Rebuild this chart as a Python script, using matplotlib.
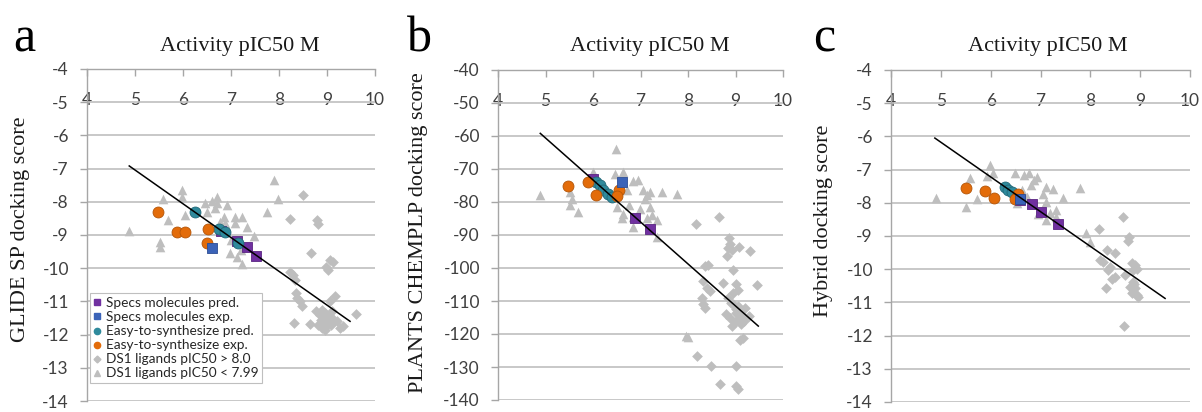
import matplotlib
matplotlib.use("Agg")
import matplotlib.pyplot as plt
from matplotlib.lines import Line2D

plt.rcParams['font.family'] = ['Lato', 'DejaVu Sans']
plt.rcParams['axes.unicode_minus'] = False

# ---- panel a: GLIDE SP ----
a_spec_pred_x = [6.79, 7.12, 7.33, 7.52]
a_spec_pred_y = [-8.87, -9.18, -9.37, -9.62]
a_spec_exp_x = [6.60]
a_spec_exp_y = [-9.40]
a_easy_pred_x = [6.25, 6.75, 6.87, 7.14]
a_easy_pred_y = [-8.32, -8.83, -8.90, -9.23]
a_easy_exp_x = [5.48, 5.87, 6.05, 6.53, 6.49]
a_easy_exp_y = [-8.32, -8.90, -8.92, -8.83, -9.23]
a_hi_x = [8.49, 8.22, 8.80, 8.82, 8.67, 9.07, 8.98, 9.02, 9.12, 8.22,
          8.29, 8.33, 8.36, 8.38, 8.43, 8.47, 9.17, 9.06, 9.60, 8.31,
          8.65, 8.78, 8.85, 8.90, 8.95, 9.00, 9.05, 9.10, 9.15, 8.88,
          8.93, 8.98, 9.03, 9.08, 9.20, 9.28, 9.33, 8.82, 8.95, 9.00, 8.90]
a_hi_y = [-7.80, -8.53, -8.55, -8.68, -9.55, -9.75, -9.95, -10.05, -9.82, -10.10,
          -10.20, -10.35, -10.75, -10.90, -11.00, -11.15, -10.85, -11.00, -11.37, -11.65,
          -11.67, -11.30, -11.40, -11.25, -11.35, -11.45, -11.40, -11.30, -11.55, -11.55,
          -11.65, -11.75, -11.60, -11.70, -11.60, -11.80, -11.75, -11.70, -11.85, -11.50, -11.80]
a_lo_x = [4.88, 5.52, 5.52, 5.59, 5.69, 5.97, 5.97, 6.04, 6.46, 6.49,
          6.60, 6.70, 6.71, 6.67, 6.91, 6.85, 6.87, 7.08, 7.22, 7.08,
          7.33, 7.47, 6.98, 7.12, 7.22, 7.01, 7.74, 7.89, 7.98, 7.20, 6.78]
a_lo_y = [-8.88, -9.20, -9.36, -7.93, -8.55, -7.63, -7.85, -8.40, -8.05, -8.30,
          -7.97, -7.85, -8.05, -8.20, -8.10, -8.45, -8.65, -8.45, -8.45, -8.65,
          -8.75, -9.04, -9.55, -9.66, -9.86, -9.15, -8.30, -7.33, -7.93, -9.45, -8.60]
a_trend_x = [4.88, 9.48]
a_trend_y = [-6.92, -11.60]

# ---- panel b: PLANTS CHEMPLP ----
b_spec_pred_x = [6.01, 6.88, 7.20]
b_spec_pred_y = [-73.0, -84.7, -88.3]
b_spec_exp_x = [6.60]
b_spec_exp_y = [-73.8]
b_easy_pred_x = [6.07, 6.15, 6.22, 6.32, 6.39]
b_easy_pred_y = [-74.0, -75.0, -76.3, -77.5, -78.5]
b_easy_exp_x = [5.48, 5.89, 6.07, 6.54, 6.51]
b_easy_exp_y = [-75.3, -74.0, -78.0, -76.3, -78.3]
b_hi_x = [8.65, 8.17, 8.87, 8.88, 8.85, 8.82, 8.92, 9.08, 9.30, 8.36,
          8.43, 8.94, 8.74, 8.32, 8.39, 8.46, 9.02, 9.06, 8.95, 9.45,
          8.29, 8.32, 8.36, 8.85, 8.90, 8.95, 9.00, 9.05, 9.10, 9.15,
          9.20, 8.80, 8.88, 8.98, 9.08, 9.18, 8.92, 9.02, 9.12, 9.28,
          9.09, 9.16, 8.19, 8.48, 9.00, 8.67, 9.02, 9.06]
b_hi_y = [-84.5, -86.7, -91.0, -92.6, -94.0, -96.4, -94.6, -93.6, -95.0, -99.4,
          -99.0, -100.6, -104.4, -104.0, -106.0, -107.0, -105.0, -106.6, -107.6, -105.1,
          -109.0, -111.0, -112.0, -109.0, -110.5, -111.0, -112.5, -111.5, -113.0, -114.5,
          -112.0, -114.0, -115.0, -116.5, -115.5, -116.0, -117.5, -113.5, -117.0, -114.5,
          -121.7, -121.2, -126.6, -129.7, -129.7, -135.0, -135.8, -136.8]
b_lo_x = [4.89, 5.52, 5.56, 5.52, 5.69, 6.49, 6.01, 6.47, 5.94, 6.64,
          6.85, 6.95, 7.05, 7.13, 7.20, 7.09, 7.45, 7.76, 6.50, 6.64,
          6.60, 6.75, 6.85, 6.99, 7.20, 7.24, 7.13, 7.34, 6.85, 7.34,
          6.71, 7.95, 8.00]
b_lo_y = [-78.0, -77.0, -79.0, -81.0, -83.0, -64.0, -71.0, -71.5, -73.5, -71.0,
          -73.5, -73.3, -76.5, -78.0, -77.0, -79.0, -77.0, -77.5, -81.5, -83.5,
          -85.0, -81.0, -84.5, -82.0, -81.5, -84.0, -85.0, -85.5, -87.5, -90.5,
          -76.5, -120.5, -121.0]
b_trend_x = [4.89, 9.48]
b_trend_y = [-59.2, -117.6]

# ---- panel c: Hybrid ----
c_spec_pred_x = [6.59, 6.82, 7.01, 7.36]
c_spec_pred_y = [-7.92, -8.05, -8.27, -8.64]
c_spec_exp_x = [6.59]
c_spec_exp_y = [-7.90]
c_easy_pred_x = [6.29, 6.35, 6.42]
c_easy_pred_y = [-7.52, -7.60, -7.67]
c_easy_exp_x = [5.50, 5.89, 6.07, 6.54, 6.49]
c_easy_exp_y = [-7.55, -7.65, -7.85, -7.72, -7.90]
c_hi_x = [8.66, 8.18, 8.78, 8.76, 8.33, 8.49, 8.19, 8.26, 8.83, 8.90,
          8.39, 8.36, 8.86, 8.93, 8.49, 8.43, 8.70, 8.85, 8.80, 8.86,
          8.93, 8.90, 8.83, 8.31, 8.68, 8.95, 8.88]
c_hi_y = [-8.44, -8.80, -9.03, -9.15, -9.41, -9.51, -9.73, -9.78, -9.81, -9.88,
          -9.93, -10.03, -10.03, -9.98, -10.23, -10.31, -10.18, -10.38, -10.53, -10.68,
          -10.78, -10.58, -10.73, -10.58, -11.72, -10.85, -10.45]
c_lo_x = [4.90, 5.50, 5.59, 5.72, 5.99, 5.93, 6.05, 6.49, 6.66, 6.76,
          6.86, 6.92, 7.06, 7.12, 7.26, 7.46, 7.79, 6.52, 6.72, 7.12,
          7.19, 7.32, 7.12, 7.32, 7.91, 7.99, 6.80, 6.62, 6.95]
c_lo_y = [-7.87, -8.14, -7.26, -7.90, -6.85, -7.20, -7.10, -7.11, -7.16, -7.11,
          -7.31, -7.21, -7.72, -7.52, -7.57, -7.87, -7.54, -8.02, -7.82, -7.97,
          -8.32, -8.22, -8.52, -8.42, -8.92, -9.18, -7.45, -7.60, -8.35]
c_trend_x = [4.88, 9.50]
c_trend_y = [-6.05, -10.88]

x_ticks = [4, 5, 6, 7, 8, 9, 10]
legend_labels = ["Specs molecules pred.", "Specs molecules exp.",
                 "Easy-to-synthesize pred.", "Easy-to-synthesize exp.",
                 "DS1 ligands pIC50 > 8.0", "DS1 ligands pIC50 < 7.99"]

PURPLE = '#7030A0'
BLUE = '#3B63B8'
TEAL = '#2F8A9C'
ORANGE = '#E36C0A'
GREY = '#BEBEBE'
AXGREY = '#A6A6A6'
GRIDGREY = '#BFBFBF'
TXT = '#404040'
SERIF = 'Liberation Serif'

W, H = 1202, 412
fig = plt.figure(figsize=(W / 100, H / 100), dpi=100)


def panel(px_left, px_right, px_top, px_bottom, ylim, ystep, d):
    ax = fig.add_axes([px_left / W, 1 - px_bottom / H,
                       (px_right - px_left) / W, (px_bottom - px_top) / H])
    ax.set_xlim(4, 10)
    ax.set_ylim(ylim[0], ylim[1])
    ax.set_xticks(x_ticks)
    yt = list(range(ylim[0], ylim[1] + 1, ystep))
    ax.set_yticks(yt)
    ax.set_yticklabels([str(v) for v in yt])
    for s in ['right', 'bottom']:
        ax.spines[s].set_visible(False)
    for s in ['top', 'left']:
        ax.spines[s].set_color(AXGREY)
        ax.spines[s].set_linewidth(1.0)
    ax.xaxis.set_ticks_position('top')
    ax.tick_params(axis='x', direction='in', length=5, width=1, color=AXGREY,
                   labelsize=12.5, labelcolor=TXT, pad=-28)
    ax.tick_params(axis='y', direction='out', length=5, width=1, color=AXGREY,
                   labelsize=12.5, labelcolor=TXT, pad=8)
    ax.yaxis.grid(True, color=GRIDGREY, lw=1.2)
    ax.set_axisbelow(True)
    ax.patch.set_alpha(0)

    ax.scatter(d['hi'][0], d['hi'][1], marker='D', s=30, color=GREY, lw=0, zorder=2)
    ax.scatter(d['lo'][0], d['lo'][1], marker='^', s=48, color=GREY, lw=0, zorder=2)
    ax.scatter(d['sp'][0], d['sp'][1], marker='s', s=62, color=PURPLE,
               edgecolor='#5a2582', lw=0.6, zorder=3)
    ax.scatter(d['ep'][0], d['ep'][1], marker='o', s=62, color=TEAL,
               edgecolor='#216878', lw=0.6, zorder=4)
    ax.scatter(d['ee'][0], d['ee'][1], marker='o', s=62, color=ORANGE,
               edgecolor='#b35508', lw=0.6, zorder=5)
    ax.scatter(d['se'][0], d['se'][1], marker='s', s=62, color=BLUE,
               edgecolor='#2c4d94', lw=0.6, zorder=6)
    ax.plot(d['tr'][0], d['tr'][1], color='black', lw=1.1, zorder=7)
    return ax


ax_a = panel(87, 375, 69, 401, (-14, -4), 1, {
    'hi': (a_hi_x, a_hi_y), 'lo': (a_lo_x, a_lo_y),
    'sp': (a_spec_pred_x, a_spec_pred_y), 'se': (a_spec_exp_x, a_spec_exp_y),
    'ep': (a_easy_pred_x, a_easy_pred_y), 'ee': (a_easy_exp_x, a_easy_exp_y),
    'tr': (a_trend_x, a_trend_y)})
ax_b = panel(498, 783, 70, 400, (-140, -40), 10, {
    'hi': (b_hi_x, b_hi_y), 'lo': (b_lo_x, b_lo_y),
    'sp': (b_spec_pred_x, b_spec_pred_y), 'se': (b_spec_exp_x, b_spec_exp_y),
    'ep': (b_easy_pred_x, b_easy_pred_y), 'ee': (b_easy_exp_x, b_easy_exp_y),
    'tr': (b_trend_x, b_trend_y)})
ax_c = panel(891, 1190, 70, 402, (-14, -4), 1, {
    'hi': (c_hi_x, c_hi_y), 'lo': (c_lo_x, c_lo_y),
    'sp': (c_spec_pred_x, c_spec_pred_y), 'se': (c_spec_exp_x, c_spec_exp_y),
    'ep': (c_easy_pred_x, c_easy_pred_y), 'ee': (c_easy_exp_x, c_easy_exp_y),
    'tr': (c_trend_x, c_trend_y)})

# legend in panel a
handles = [
    Line2D([], [], ls='', marker='s', ms=4.5, color=PURPLE),
    Line2D([], [], ls='', marker='s', ms=4.5, color=BLUE),
    Line2D([], [], ls='', marker='o', ms=4.5, color=TEAL),
    Line2D([], [], ls='', marker='o', ms=4.5, color=ORANGE),
    Line2D([], [], ls='', marker='D', ms=3.5, color=GREY),
    Line2D([], [], ls='', marker='^', ms=4.5, color=GREY),
]
leg = ax_a.legend(handles, legend_labels, loc='upper left', bbox_to_anchor=(0.01, 0.325),
                  borderaxespad=0, fontsize=9.8, handlelength=0.5, handletextpad=0.35,
                  labelspacing=0.15, borderpad=0.3, fancybox=False, framealpha=1,
                  edgecolor=GRIDGREY)
leg.get_frame().set_linewidth(0.8)
for t in leg.get_texts():
    t.set_color('#262626')

# panel letters, titles, y labels
for x, lab in [(24, 'a'), (419, 'b'), (824, 'c')]:
    fig.text(x / W, 1 - 51 / H, lab, family=SERIF, size=36, ha='center', va='baseline')
for x in [240, 650, 1048]:
    fig.text(x / W, 1 - 47 / H, 'Activity pIC50 M', family=SERIF, size=16,
             ha='center', va='center', color='#1a1a1a')
for x, y, lab in [(20.5, 229, 'GLIDE SP docking score'),
                  (418, 233, 'PLANTS CHEMPLP docking score'),
                  (824, 221, 'Hybrid docking score')]:
    fig.text(x / W, 1 - y / H, lab, family=SERIF, size=16, rotation=90,
             ha='center', va='center', color='#1a1a1a')

fig.savefig('out.png', dpi=100)
